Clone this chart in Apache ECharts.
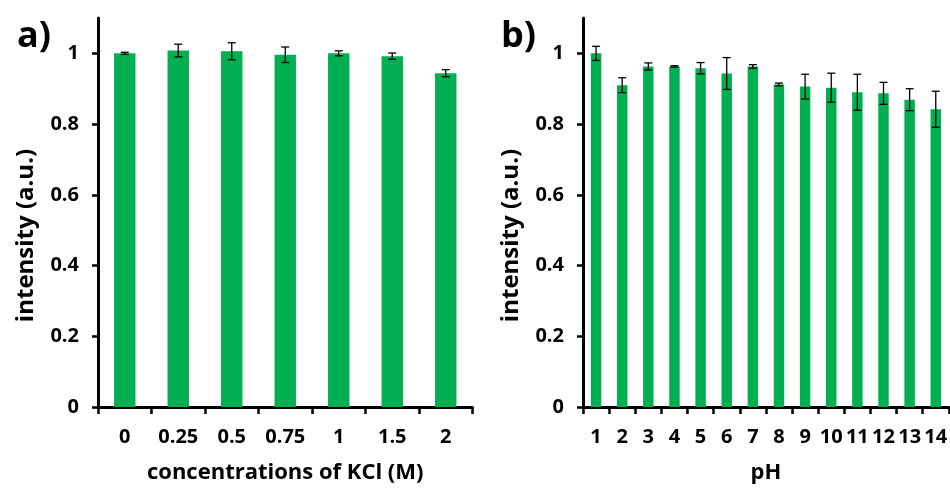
<!DOCTYPE html>
<html lang="en">
<head>
    <meta charset="UTF-8">
    <title>intensity vs KCl / pH</title>
    <script type="text/javascript" src="https://cdn.jsdelivr.net/npm/echarts@6/dist/echarts.min.js"></script>
    <style>
        html, body { margin: 0; padding: 0; background: #fff; }
        #chart { width: 950px; height: 491px; }
    </style>
</head>
<body>
<div id="chart"></div>
<script>
    // panel a) KCl concentration
    var kclLabels = ['0', '0.25', '0.5', '0.75', '1', '1.5', '2'];
    var kclValues = [1.000, 1.008, 1.006, 0.996, 1.000, 0.992, 0.944];
    var kclErrors = [0.003, 0.018, 0.024, 0.022, 0.007, 0.009, 0.010];

    // panel b) pH
    var phLabels = ['1', '2', '3', '4', '5', '6', '7', '8', '9', '10', '11', '12', '13', '14'];
    var phValues = [1.000, 0.910, 0.963, 0.963, 0.958, 0.943, 0.963, 0.912, 0.906, 0.903, 0.890, 0.887, 0.869, 0.842];
    var phErrors = [0.020, 0.021, 0.010, 0.002, 0.016, 0.045, 0.005, 0.004, 0.035, 0.041, 0.051, 0.031, 0.031, 0.051];

    var yTicks = [0, 0.2, 0.4, 0.6, 0.8, 1];

    var green = '#00b050';
    var font = 'Open Sans';

    // 误差棒数据 [类目序号, 值, 误差]
    function errData(vals, errs) {
        var out = [];
        for (var i = 0; i < vals.length; i++) {
            out.push([i, vals[i], errs[i]]);
        }
        return out;
    }

    function renderErr(params, api) {
        var x = api.value(0), v = api.value(1), e = api.value(2);
        var hi = api.coord([x, v + e]);
        var lo = api.coord([x, v - e]);
        var hw = 4;
        var st = {stroke: '#000', lineWidth: 1.3};
        return {
            type: 'group',
            children: [
                {type: 'line', shape: {x1: hi[0], y1: hi[1], x2: lo[0], y2: lo[1]}, style: st},
                {type: 'line', shape: {x1: hi[0] - hw, y1: hi[1], x2: hi[0] + hw, y2: hi[1]}, style: st},
                {type: 'line', shape: {x1: lo[0] - hw, y1: lo[1], x2: lo[0] + hw, y2: lo[1]}, style: st}
            ]
        };
    }

    function xAxisOf(idx, labels, name) {
        return {
            type: 'category',
            gridIndex: idx,
            data: labels,
            name: name,
            nameLocation: 'middle',
            nameGap: 55,
            nameTextStyle: {fontFamily: font, fontSize: 22, fontWeight: 'bold', color: '#000'},
            axisLine: {lineStyle: {color: '#000', width: 3}},
            axisTick: {show: true, length: 7, lineStyle: {color: '#000', width: 2.5}},
            axisLabel: {interval: 0, margin: 20, fontFamily: font, fontSize: 20, fontWeight: 'bold', color: '#000'},
            splitLine: {show: false}
        };
    }

    function yAxisOf(idx) {
        return {
            type: 'value',
            gridIndex: idx,
            min: 0,
            max: 1.1,
            name: 'intensity (a.u.)',
            nameLocation: 'middle',
            nameGap: 60,
            nameTextStyle: {fontFamily: font, fontSize: 24, fontWeight: 'bold', color: '#000', padding: [0, 46, 0, 0]},
            axisLine: {show: true, lineStyle: {color: '#000', width: 3}},
            axisTick: {show: true, length: 6, customValues: yTicks, lineStyle: {color: '#000', width: 2.5}},
            axisLabel: {margin: 19, customValues: yTicks, fontFamily: font, fontSize: 20, fontWeight: 'bold', color: '#000'},
            splitLine: {show: false}
        };
    }

    var chart = echarts.init(document.getElementById('chart'), null, {renderer: 'canvas'});
    chart.setOption({
        backgroundColor: '#fff',
        animation: false,
        title: [
            {text: 'a)', left: 12, top: 14, textStyle: {fontFamily: font, fontSize: 36, fontWeight: 'bold', color: '#000'}},
            {text: 'b)', left: 496, top: 14, textStyle: {fontFamily: font, fontSize: 36, fontWeight: 'bold', color: '#000'}}
        ],
        grid: [
            {left: 98, top: 18, width: 374.5, bottom: 84},
            {left: 583, top: 18, width: 371.5, bottom: 84}
        ],
        xAxis: [
            xAxisOf(0, kclLabels, 'concentrations of KCl (M)'),
            xAxisOf(1, phLabels, 'pH')
        ],
        yAxis: [yAxisOf(0), yAxisOf(1)],
        series: [
            {type: 'bar', xAxisIndex: 0, yAxisIndex: 0, data: kclValues, barWidth: '40%', itemStyle: {color: green}},
            {type: 'custom', xAxisIndex: 0, yAxisIndex: 0, data: errData(kclValues, kclErrors),
                renderItem: renderErr, encode: {x: 0, y: 1}, z: 5},
            {type: 'bar', xAxisIndex: 1, yAxisIndex: 1, data: phValues, barWidth: '40%', itemStyle: {color: green}},
            {type: 'custom', xAxisIndex: 1, yAxisIndex: 1, data: errData(phValues, phErrors),
                renderItem: renderErr, encode: {x: 0, y: 1}, z: 5}
        ]
    });
</script>
</body>
</html>
